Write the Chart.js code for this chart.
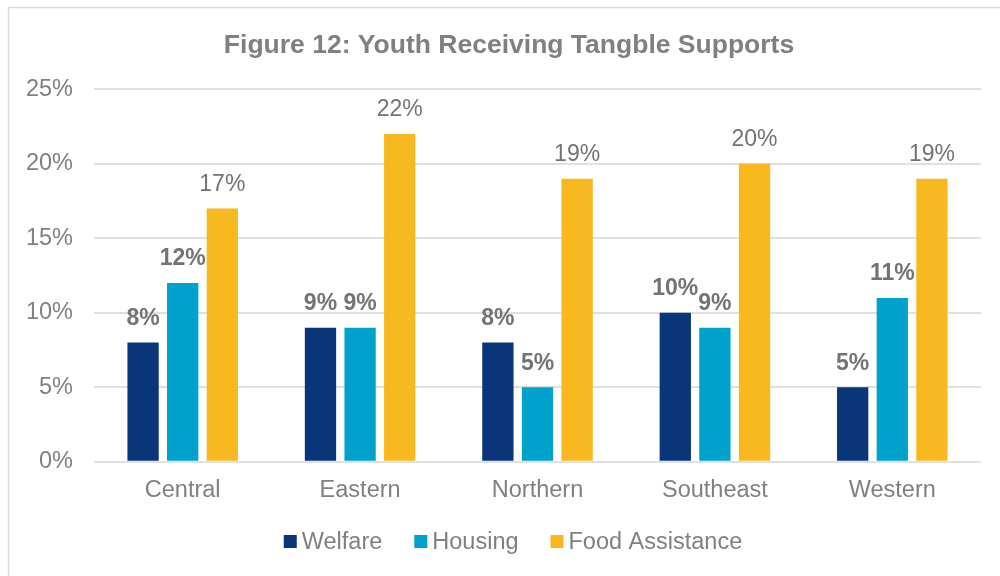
<!DOCTYPE html>
<html>
<head>
<meta charset="utf-8">
<title>Youth Receiving Tangble Supports</title>
<script src="https://cdn.jsdelivr.net/npm/chart.js@4/dist/chart.umd.min.js"></script>
<style>
  html, body { margin: 0; padding: 0; background: #ffffff; }
  #wrap { position: relative; width: 1000px; height: 576px; }
</style>
</head>
<body>
<div id="wrap"><canvas id="chart"></canvas></div>
<script>
// Regions and the share of youth receiving each kind of support (percent)
const categories = ['Central', 'Eastern', 'Northern', 'Southeast', 'Western'];
const welfare = [8, 9, 8, 10, 5];
const housing = [12, 9, 5, 9, 11];
const foodAssistance = [17, 22, 19, 20, 19];
const seriesNames = ['Welfare', 'Housing', 'Food Assistance'];
const yTickMax = 25;
const yTickStep = 5;

const FONT = "'Liberation Sans', Arial, Helvetica, sans-serif";
const TEXT_GREY = '#808080';
const LABEL_GREY = '#737373';
const GRID_GREY = '#e0e0e0';
const COLORS = ['#0b3579', '#00a2cb', '#f8b820'];

// Light frame along the top and left edges
const framePlugin = {
  id: 'frame',
  beforeDraw(chart) {
    const ctx = chart.ctx;
    ctx.save();
    ctx.strokeStyle = '#d9d9d9';
    ctx.lineWidth = 1.5;
    ctx.beginPath();
    ctx.moveTo(8.5, chart.height);
    ctx.lineTo(8.5, 7.5);
    ctx.lineTo(chart.width, 7.5);
    ctx.stroke();
    ctx.restore();
  }
};

// Widen the value axis box to the left so its labels are not clipped,
// while the title stays centred on the padded layout
const axisRoomPlugin = {
  id: 'axisRoom',
  afterLayout(chart) {
    const y = chart.scales.y;
    y.left = 14;
    y.width = y.right - y.left;
  }
};

// Percentage labels above each bar
const barLabelPlugin = {
  id: 'barLabels',
  afterDatasetsDraw(chart) {
    const ctx = chart.ctx;
    ctx.save();
    ctx.fillStyle = LABEL_GREY;
    ctx.textAlign = 'center';
    ctx.textBaseline = 'middle';
    chart.data.datasets.forEach((ds, i) => {
      const meta = chart.getDatasetMeta(i);
      ctx.font = (i < 2 ? 'bold ' : '') + '23px ' + FONT;
      meta.data.forEach((bar, j) => {
        ctx.fillText(ds.data[j] + '%', bar.x, bar.y - 24);
      });
    });
    ctx.restore();
  }
};

// Legend row under the category labels
const legendRowPlugin = {
  id: 'legendRow',
  afterDraw(chart) {
    const ctx = chart.ctx;
    const box = 13, textGap = 5, itemGap = 32, cy = 541.5, cx = 513;
    ctx.save();
    ctx.font = '23.5px ' + FONT;
    ctx.textBaseline = 'middle';
    ctx.textAlign = 'left';
    const items = chart.data.datasets.map(ds => ({
      label: ds.label, color: ds.backgroundColor, w: ctx.measureText(ds.label).width
    }));
    const total = items.reduce((s, it) => s + box + textGap + it.w, 0) + itemGap * (items.length - 1);
    let x = cx - total / 2;
    items.forEach(it => {
      ctx.fillStyle = it.color;
      ctx.fillRect(x, cy - box / 2, box, box);
      x += box + textGap;
      ctx.fillStyle = TEXT_GREY;
      ctx.fillText(it.label, x, cy + 1);
      x += it.w + itemGap;
    });
    ctx.restore();
  }
};

const seriesValues = [welfare, housing, foodAssistance];

new Chart(document.getElementById('chart'), {
  type: 'bar',
  data: {
    labels: categories,
    datasets: seriesNames.map((name, i) => ({
      label: name,
      data: seriesValues[i],
      backgroundColor: COLORS[i],
      borderWidth: 0,
      barPercentage: 0.79,
      categoryPercentage: 0.67
    }))
  },
  options: {
    responsive: true,
    maintainAspectRatio: false,
    animation: false,
    layout: { padding: { left: 37, right: 19, top: 0, bottom: 56 } },
    plugins: {
      legend: { display: false },
      tooltip: { enabled: false },
      title: {
        display: true,
        text: 'Figure 12: Youth Receiving Tangble Supports',
        color: TEXT_GREY,
        font: { family: FONT, size: 26.5, weight: 'bold' },
        padding: { top: 30, bottom: 27.5 }
      }
    },
    scales: {
      x: {
        grid: { display: false, drawTicks: false },
        border: { display: false },
        ticks: { color: TEXT_GREY, font: { family: FONT, size: 23.5 }, padding: 15 }
      },
      y: {
        min: 0,
        max: yTickMax,
        afterFit(scale) { scale.width = 57; },
        grid: { color: GRID_GREY, lineWidth: 2, drawTicks: false },
        border: { display: false },
        ticks: {
          stepSize: yTickStep,
          color: TEXT_GREY,
          font: { family: FONT, size: 23.5 },
          padding: 21,
          callback: v => v + '%'
        }
      }
    }
  },
  plugins: [framePlugin, axisRoomPlugin, barLabelPlugin, legendRowPlugin]
});
</script>
</body>
</html>
